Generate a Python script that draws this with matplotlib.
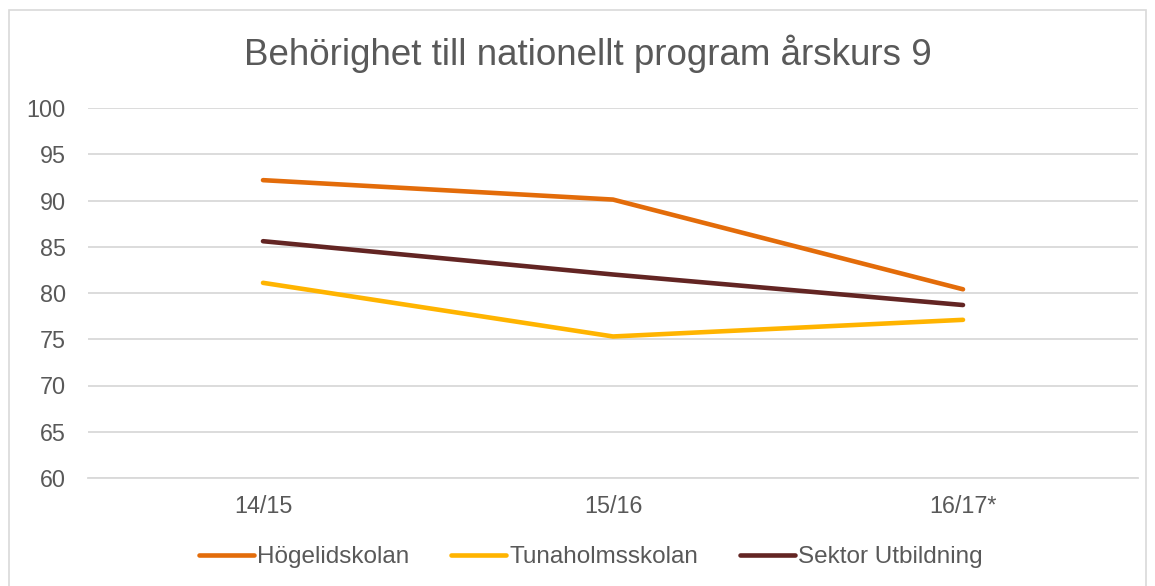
import matplotlib.pyplot as plt
from matplotlib.patches import Rectangle

plt.rcParams['font.family'] = ['Liberation Sans', 'DejaVu Sans']

# data
years = ["14/15", "15/16", "16/17*"]
hogelid = [92.2, 90.1, 80.4]
tunaholm = [81.1, 75.3, 77.1]
sektor = [85.6, 82.0, 78.7]

series = [
    ("Högelidskolan", hogelid, "#E36C0A"),
    ("Tunaholmsskolan", tunaholm, "#FFB400"),
    ("Sektor Utbildning", sektor, "#632523"),
]

TXT = "#595959"
GRID = "#D9D9D9"

W, H = 1155, 586
fig = plt.figure(figsize=(W / 100, H / 100), dpi=100)
ax = fig.add_axes([88 / W, 1 - 478 / H, (1138 - 88) / W, (478 - 108) / H])

x = list(range(len(years)))
for name, vals, col in series:
    ax.plot(x, vals, color=col, lw=3.3, solid_capstyle="round", label=name)

ax.set_xlim(-0.5, len(years) - 0.5)
ax.set_ylim(60, 100)
ax.set_yticks(range(60, 101, 5))
ax.set_xticks(x)
ax.set_xticklabels(years)
ax.grid(True, axis="y", color=GRID, lw=1.3)
ax.set_axisbelow(True)
for s in ["top", "right", "left"]:
    ax.spines[s].set_visible(False)
ax.spines["bottom"].set_color(GRID)
ax.spines["bottom"].set_linewidth(1.3)
ax.tick_params(length=0, labelsize=16.8, labelcolor=TXT)
ax.tick_params(axis="y", pad=16)
ax.tick_params(axis="x", pad=12)

fig.text(588 / W, 1 - 54 / H, "Behörighet till nationellt program årskurs 9",
         ha="center", va="center", fontsize=26.5, color=TXT)

leg = ax.legend(loc="center", bbox_to_anchor=(591 / W, 1 - 557 / H),
                bbox_transform=fig.transFigure, ncol=3, frameon=False,
                fontsize=17.5, handlelength=2.26, handletextpad=0.12,
                columnspacing=1.73)
for t in leg.get_texts():
    t.set_color(TXT)

fig.patches.append(Rectangle((9 / W, -0.01), (1146 - 9) / W, 1.01 - 10 / H,
                             transform=fig.transFigure, fill=False,
                             edgecolor=GRID, lw=1.2))

fig.savefig("out.png", dpi=100)
